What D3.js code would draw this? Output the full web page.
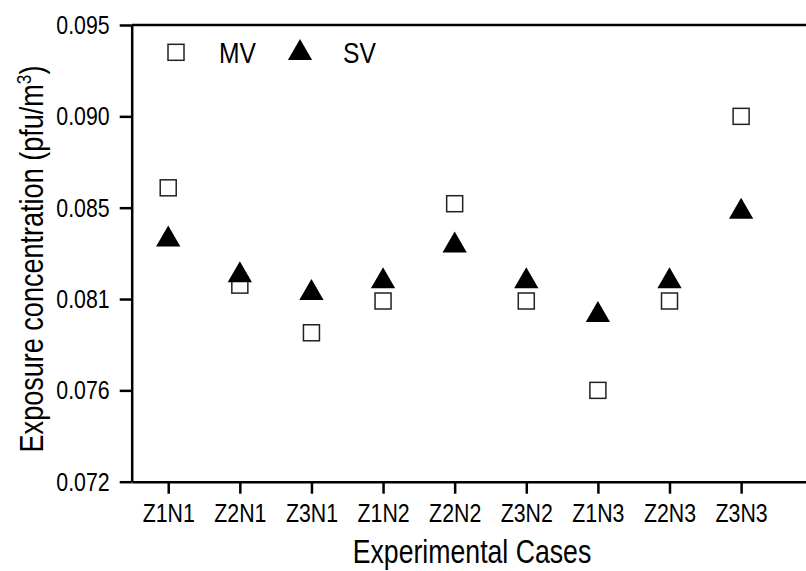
<!DOCTYPE html>
<html>
<head>
<meta charset="utf-8">
<script src="https://cdn.jsdelivr.net/npm/d3@7"></script>
<style>
  html, body { margin: 0; padding: 0; background: #fff; }
  svg { display: block; }
  text { font-family: "Liberation Sans", Arial, sans-serif; fill: #000; }
  .axis path, .axis line { stroke: #000; stroke-width: 2.5; }
</style>
</head>
<body>
<div id="chart"></div>
<script>
// data
const cases = ['Z1N1', 'Z2N1', 'Z3N1', 'Z1N2', 'Z2N2', 'Z3N2', 'Z1N3', 'Z2N3', 'Z3N3'];
const mvValues = [0.0868, 0.0819, 0.0795, 0.0811, 0.0860, 0.0811, 0.0766, 0.0811, 0.0904];
const svValues = [0.0842, 0.0824, 0.0815, 0.0821, 0.0839, 0.0821, 0.0804, 0.0821, 0.0856];
const yTicks = [0.072, 0.0766, 0.0812, 0.0858, 0.0904, 0.095];
const yTickLabels = ['0.072', '0.076', '0.081', '0.085', '0.090', '0.095'];
const legendItems = ['MV', 'SV'];

const width = 806;
const height = 571;
const margin = { top: 25, left: 131.7, bottom: 89.3 };
const squeeze = 0.82; // narrow face look (Arial Narrow-ish)

// helper: squash a text's glyphs horizontally
function narrow(sel) {
  sel.attr('textLength', function () { return this.getComputedTextLength() * squeeze; })
    .attr('lengthAdjust', 'spacingAndGlyphs');
}

const $svg = d3.select('#chart').append('svg')
  .attr('width', width)
  .attr('height', height);

// scales
const scaleX = d3.scaleLinear()
  .domain([-0.51, 8.906])
  .range([margin.left, width]);
const scaleY = d3.scaleLinear()
  .domain([0.072, 0.095])
  .range([height - margin.bottom, margin.top]);

// axes
const $xAxis = $svg.append('g')
  .attr('class', 'axis x')
  .attr('transform', `translate(0, ${height - margin.bottom})`)
  .call(d3.axisBottom(scaleX)
    .tickValues(d3.range(cases.length))
    .tickFormat(i => cases[i])
    .tickSize(12)
    .tickSizeOuter(0)
    .tickPadding(10));
$xAxis.selectAll('text').style('font-size', '26px').call(narrow);

const $yAxis = $svg.append('g')
  .attr('class', 'axis y')
  .attr('transform', `translate(${margin.left}, 0)`)
  .call(d3.axisLeft(scaleY)
    .tickValues(yTicks)
    .tickFormat((d, i) => yTickLabels[i])
    .tickSize(12)
    .tickSizeOuter(0)
    .tickPadding(10));
$yAxis.selectAll('text').style('font-size', '26px').call(narrow);

// top frame line
$svg.append('line')
  .attr('x1', margin.left)
  .attr('x2', width)
  .attr('y1', scaleY(0.095))
  .attr('y2', scaleY(0.095))
  .attr('stroke', '#000')
  .attr('stroke-width', 2.5);

// axis titles
$svg.append('text')
  .attr('x', 472)
  .attr('y', 563)
  .attr('text-anchor', 'middle')
  .style('font-size', '32.5px')
  .text('Experimental Cases')
  .call(narrow);

const $yTitle = $svg.append('text')
  .attr('transform', `translate(43, 259) rotate(-90) scale(${squeeze}, 1)`)
  .attr('text-anchor', 'middle')
  .style('font-size', '33px');
$yTitle.append('tspan').text('Exposure concentration (pfu/m');
$yTitle.append('tspan').attr('dy', -12).style('font-size', '21px').text('3');
$yTitle.append('tspan').attr('dy', 12).text(')');

// markers
const squareSize = 16;
const triangle = d3.symbol().type(d3.symbolTriangle).size(255);

$svg.append('g').selectAll('rect')
  .data(mvValues)
  .join('rect')
  .attr('x', (d, i) => scaleX(i) - squareSize / 2)
  .attr('y', d => scaleY(d) - squareSize / 2)
  .attr('width', squareSize)
  .attr('height', squareSize)
  .attr('fill', '#fff')
  .attr('stroke', '#222')
  .attr('stroke-width', 1.5);

$svg.append('g').selectAll('path')
  .data(svValues)
  .join('path')
  .attr('d', triangle)
  .attr('transform', (d, i) => `translate(${scaleX(i)}, ${scaleY(d)})`)
  .attr('fill', '#000');

// legend
const $legend = $svg.append('g').attr('class', 'legend');
$legend.append('rect')
  .attr('x', 176 - squareSize / 2)
  .attr('y', 52.3 - squareSize / 2)
  .attr('width', squareSize)
  .attr('height', squareSize)
  .attr('fill', '#fff')
  .attr('stroke', '#222')
  .attr('stroke-width', 1.5);
$legend.append('path')
  .attr('d', triangle)
  .attr('transform', 'translate(300, 53)')
  .attr('fill', '#000');
$legend.selectAll('text')
  .data(legendItems)
  .join('text')
  .attr('x', (d, i) => (i === 0 ? 219 : 343))
  .attr('y', 63.3)
  .style('font-size', '30px')
  .text(d => d)
  .call(narrow);
</script>
</body>
</html>
